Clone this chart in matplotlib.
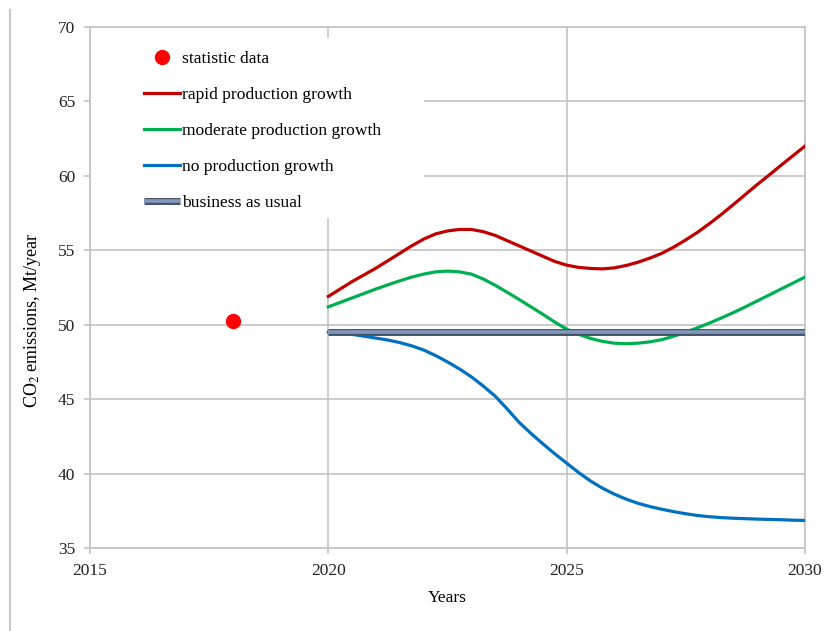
import numpy as np
import matplotlib
matplotlib.use("Agg")
import matplotlib.pyplot as plt
import matplotlib.patheffects as pe
from matplotlib.lines import Line2D
from matplotlib.patches import Rectangle

plt.rcParams['font.family'] = ['Liberation Serif', 'DejaVu Serif']
plt.rcParams['mathtext.fontset'] = 'stix'

# Scenario years, quarter-year steps 2020..2030
years = np.arange(2020, 2030.25, 0.25)

rapid = [51.9, 52.4, 52.9, 53.35, 53.8, 54.3, 54.8, 55.3, 55.75, 56.1,
         56.3, 56.4, 56.4, 56.25, 56.0, 55.65, 55.3, 54.95, 54.6, 54.25,
         54.0, 53.85, 53.78, 53.75, 53.82, 53.98, 54.2, 54.48, 54.8, 55.22,
         55.7, 56.22, 56.8, 57.42, 58.08, 58.75, 59.42, 60.06, 60.72, 61.36,
         62.0]
moderate = [51.2, 51.5, 51.8, 52.1, 52.4, 52.68, 52.95, 53.2, 53.4, 53.55,
            53.6, 53.55, 53.4, 53.07, 52.65, 52.18, 51.7, 51.2, 50.7, 50.18,
            49.7, 49.36, 49.08, 48.88, 48.76, 48.72, 48.76, 48.85, 49.0, 49.23,
            49.5, 49.8, 50.12, 50.46, 50.82, 51.2, 51.6, 52.0, 52.4, 52.8,
            53.2]
no_growth = [49.5, 49.45, 49.35, 49.23, 49.1, 48.97, 48.8, 48.58, 48.3, 47.93,
             47.5, 47.03, 46.5, 45.88, 45.2, 44.35, 43.45, 42.7, 42.0, 41.33,
             40.7, 40.07, 39.5, 39.02, 38.62, 38.28, 38.0, 37.78, 37.6, 37.44,
             37.3, 37.18, 37.1, 37.04, 37.0, 36.97, 36.94, 36.92, 36.9, 36.87,
             36.85]

bau_years = [2020, 2030]
bau = [49.5, 49.5]

stat_year = [2018]
stat_value = [50.25]

grid_col = '#c3c3c3'

fig = plt.figure(figsize=(8.24, 6.31), dpi=100)
ax = fig.add_axes([90/824, 1 - 548/631, 715/824, 521/631])

ax.set_xlim(2015, 2030)
ax.set_ylim(35, 70)
ax.set_xticks([2015, 2020, 2025, 2030])
ax.set_yticks(range(35, 71, 5))
ax.grid(True, color=grid_col, linewidth=1.2)
ax.set_axisbelow(True)
for sp in ax.spines.values():
    sp.set_color(grid_col)
    sp.set_linewidth(1.2)
ax.tick_params(axis='both', colors=grid_col, labelcolor='#222222',
               labelsize=12.5, length=4.5, width=1.2, pad=6)

ax.plot(stat_year, stat_value, 'o', color='#ff0000', markersize=10,
        label='statistic data', zorder=4)
ax.plot(years, rapid, color='#c00000', linewidth=2.3,
        label='rapid production growth', zorder=3)
ax.plot(years, moderate, color='#00b050', linewidth=2.3,
        label='moderate production growth', zorder=3)
ax.plot(years, no_growth, color='#0070c0', linewidth=2.3,
        label='no production growth', zorder=3)
ax.plot(bau_years, bau, color='#8497b8', linewidth=2.6,
        solid_capstyle='butt', label='business as usual', zorder=3,
        path_effects=[pe.Stroke(linewidth=5, foreground='#44546a'), pe.Normal()])

# white box behind the legend hides grid in that corner
ax.add_patch(Rectangle((0.0015, 0.633), 0.466, 0.346, transform=ax.transAxes,
                       facecolor='white', edgecolor='none', zorder=2.6))

ax.legend(loc='upper left', bbox_to_anchor=(0.066, 0.967), frameon=False,
          fontsize=12.6, handlelength=2.05, handletextpad=0.1,
          labelspacing=1.12, borderaxespad=0)

ax.set_xlabel('Years', fontsize=12.5, labelpad=8)
ax.set_ylabel('CO$_2$ emissions, Mt/year', fontsize=13)
ax.yaxis.set_label_coords(-0.066, 0.4376)

fig.add_artist(Line2D([10/824, 10/824], [0, 1 - 10/631], color='#c8c8c8', linewidth=1.5))

fig.savefig('out.png', dpi=100)
